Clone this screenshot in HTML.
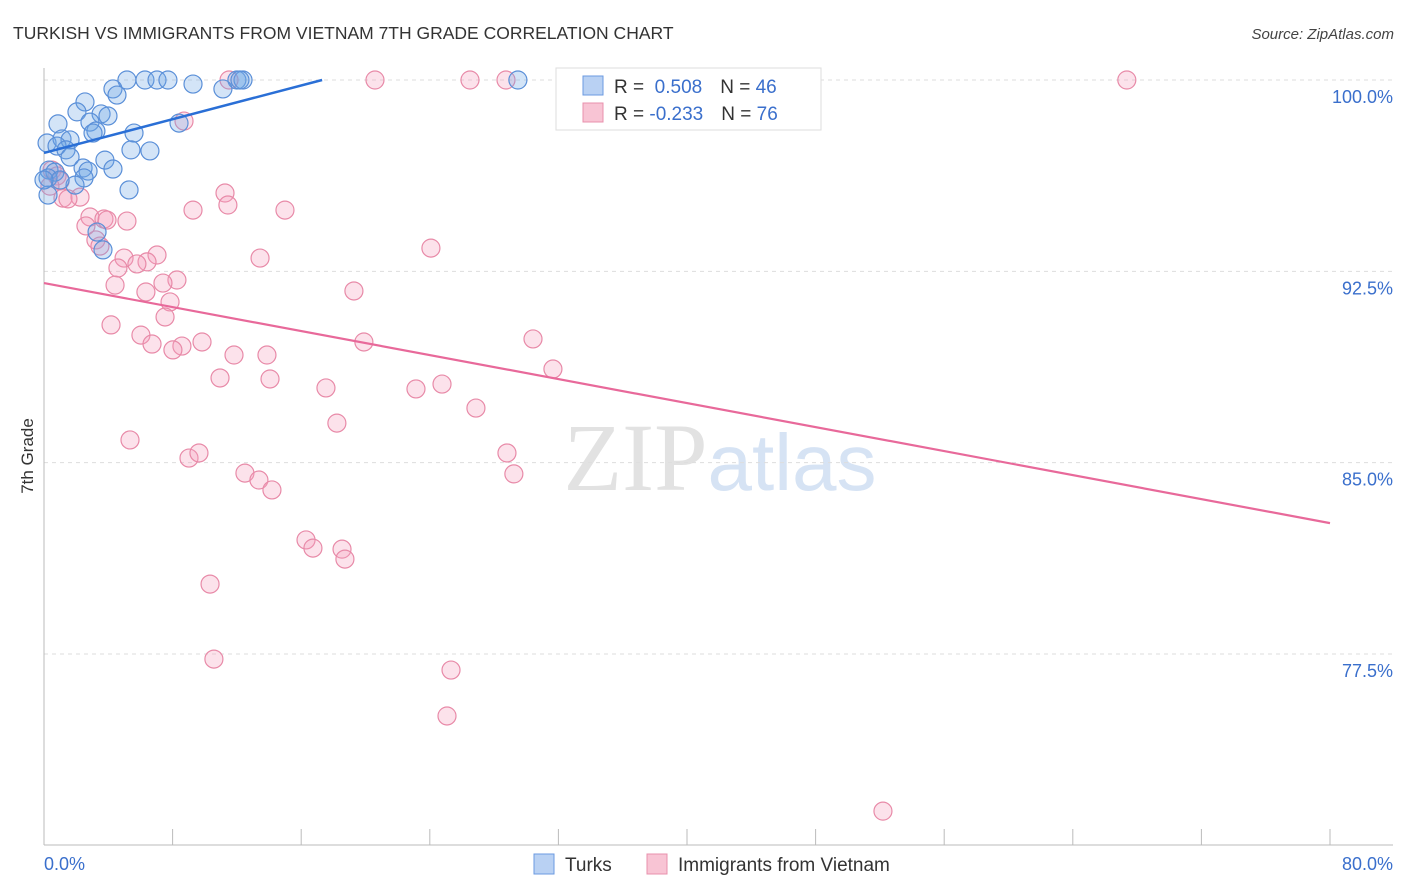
<!DOCTYPE html>
<html><head><meta charset="utf-8">
<style>
body{margin:0;background:#fff;font-family:"Liberation Sans",sans-serif;}
svg{display:block}
</style></head>
<body>
<svg id="chart" width="1406" height="892" xmlns="http://www.w3.org/2000/svg">
<text x="13" y="39" font-size="17.5" fill="#333" font-family="Liberation Sans, sans-serif">TURKISH VS IMMIGRANTS FROM VIETNAM 7TH GRADE CORRELATION CHART</text>
<text x="1394" y="39" font-size="15" fill="#444" font-style="italic" text-anchor="end">Source: ZipAtlas.com</text>
<text x="720" y="490" font-size="96" fill="#e2e2e2" text-anchor="middle" font-family="Liberation Serif, serif">ZIP<tspan fill="#d6e3f4" font-family="Liberation Sans, sans-serif" font-size="80">atlas</tspan></text>
<g id="grid"></g>
<g id="axes"></g>
<g id="pts"></g>
<g id="lines"></g>
<text transform="translate(33,456) rotate(-90)" font-size="17" fill="#333" text-anchor="middle">7th Grade</text>
<text x="44" y="870" font-size="18" fill="#3a6fcc">0.0%</text>
<text x="1393" y="870" font-size="18" fill="#3a6fcc" text-anchor="end">80.0%</text>
<g>
<rect x="556" y="68" width="265" height="62" fill="#fff" stroke="#ddd"/>
<rect x="583" y="76" width="20" height="19" fill="#b9d1f3" stroke="#6b9ae0"/>
<rect x="583" y="103" width="20" height="19" fill="#f8c4d4" stroke="#e890ac"/>
<text x="614" y="93" font-size="19" fill="#333">R = <tspan fill="#3a6fcc">&#160;0.508</tspan><tspan dx="18">N = </tspan><tspan fill="#3a6fcc">46</tspan></text>
<text x="614" y="120" font-size="19" fill="#333">R = <tspan fill="#3a6fcc">-0.233</tspan><tspan dx="18">N = </tspan><tspan fill="#3a6fcc">76</tspan></text>
</g>
<g>
<rect x="534" y="854" width="20" height="20" fill="#b9d1f3" stroke="#6b9ae0"/>
<text x="565" y="871" font-size="19" fill="#333">Turks</text>
<rect x="647" y="854" width="20" height="20" fill="#f8c4d4" stroke="#e890ac"/>
<text x="678" y="871" font-size="19" fill="#333">Immigrants from Vietnam</text>
</g>
</svg>
<script>
const yTicks=[100,92.5,85,77.5];
const yTickLabels=["100.0%","92.5%","85.0%","77.5%"];
const xTicks=[0,8,16,24,32,40,48,56,64,72,80];
const turksX=[5.16,6.28,7.03,7.71,12.0,12.38,29.48,9.27,11.13,4.29,4.54,2.55,2.05,3.55,3.98,0.87,2.86,5.6,3.23,3.05,0.19,1.12,1.62,0.81,1.37,5.41,6.59,1.62,3.79,2.43,2.74,4.29,0.31,0.68,2.49,0.25,1.93,5.29,0.25,3.3,3.67,8.4,12.19,1.0,0];
const turksY=[100,100,100,100,100,100,100,99.84,99.65,99.65,99.41,99.14,98.75,98.67,98.59,98.28,98.35,97.92,98.0,97.92,97.53,97.69,97.65,97.41,97.26,97.26,97.22,96.98,96.86,96.55,96.43,96.51,96.47,96.39,96.16,96.16,95.88,95.69,95.49,94.04,93.34,98.31,100,96.08,96.08];
const vietX=[11.51,20.59,26.5,28.74,43.23,67.36,8.71,0.5,0.81,1.0,0.37,1.18,2.24,1.49,11.26,11.44,9.27,14.99,2.86,3.73,3.92,5.16,2.61,3.23,3.48,24.07,7.03,4.98,13.44,6.41,5.78,4.6,8.27,7.4,4.42,6.34,19.28,7.84,7.53,4.17,6.03,6.72,9.83,8.58,8.02,11.82,13.87,19.9,30.42,31.66,10.95,14.06,17.54,23.14,24.76,26.87,18.22,5.35,9.02,9.64,28.8,29.23,12.5,13.37,14.18,16.3,16.73,18.54,18.72,10.33,10.57,25.32,25.07,52.19];
const vietY=[100,100,100,100,100,100,98.39,96.47,96.24,96.04,95.84,95.37,95.41,95.34,95.57,95.1,94.9,94.9,94.63,94.55,94.51,94.47,94.28,93.73,93.49,93.41,93.14,93.02,93.02,92.87,92.79,92.63,92.16,92.04,91.96,91.69,91.73,91.3,90.71,90.4,90.0,89.65,89.73,89.57,89.42,89.22,89.22,89.73,89.85,88.67,88.32,88.28,87.93,87.89,88.08,87.14,86.55,85.89,85.18,85.38,85.38,84.56,84.59,84.32,83.93,81.97,81.65,81.61,81.22,80.24,77.3,76.87,75.07,71.34];
const turksTrend=[97.14,100.0,17.3];
const vietTrend=[92.04,82.63,80];

const NS="http://www.w3.org/2000/svg";
const X=v=>44+v/80*1286;
const Y=v=>80+(100-v)/7.5*191.33;
function mk(tag,attrs,parent){const e=document.createElementNS(NS,tag);for(const k in attrs)e.setAttribute(k,attrs[k]);parent.appendChild(e);return e;}
const grid=document.getElementById('grid'),axes=document.getElementById('axes'),pts=document.getElementById('pts'),lines=document.getElementById('lines');
yTicks.forEach((t,i)=>{
  const l=mk('line',{x1:44,x2:1393,y1:Y(t),y2:Y(t),stroke:'#ddd','stroke-dasharray':'4,4'},grid);
  
  
  const tx=mk('text',{x:1393,y:Y(t)+23,'font-size':18,fill:'#3a6fcc','text-anchor':'end'},grid);
  tx.textContent=yTickLabels[i];
  
  
});
const ya=mk('line',{x1:44,x2:44,y1:68,y2:845,stroke:'#bbb'},axes);


const xa=mk('line',{x1:44,x2:1393,y1:845,y2:845,stroke:'#bbb'},axes);


xTicks.forEach(t=>{
  const l=mk('line',{x1:X(t),x2:X(t),y1:829,y2:845,stroke:'#bbb'},axes);
  
  
});
vietX.forEach((v,i)=>{
  const c=mk('circle',{cx:X(v),cy:Y(vietY[i]),r:9,fill:'rgba(244,160,188,0.3)',stroke:'#e88aa8','stroke-width':1.2},pts);
  
  
});
turksX.forEach((v,i)=>{
  const c=mk('circle',{cx:X(v),cy:Y(turksY[i]),r:9,fill:'rgba(110,165,230,0.3)',stroke:'#5a8fd8','stroke-width':1.2},pts);
  
  
});
const tl=mk('line',{x1:X(0),y1:Y(turksTrend[0]),x2:X(turksTrend[2]),y2:Y(turksTrend[1]),stroke:'#2a6fd6','stroke-width':2.5},lines);


const vl=mk('line',{x1:X(0),y1:Y(vietTrend[0]),x2:X(vietTrend[2]),y2:Y(vietTrend[1]),stroke:'#e8699a','stroke-width':2.2},lines);


</script>
</body></html>
